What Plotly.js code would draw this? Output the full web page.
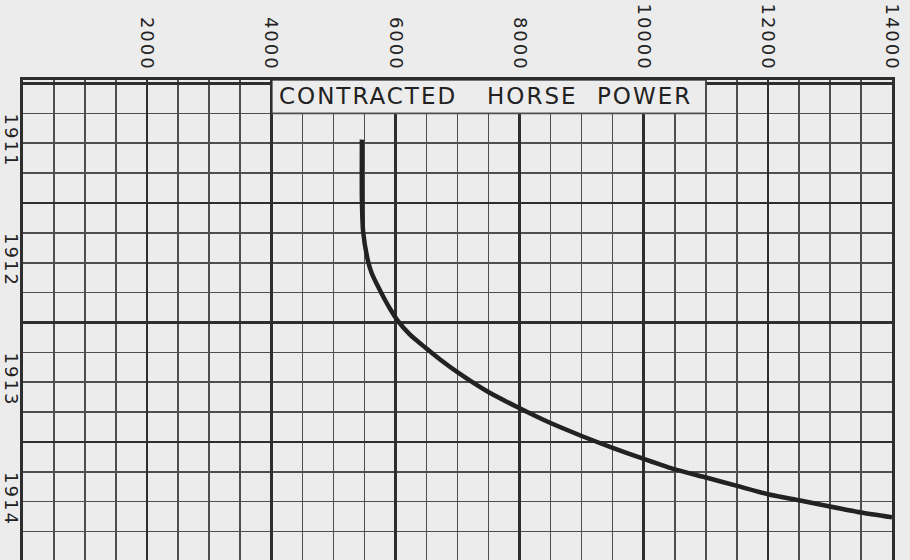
<!DOCTYPE html>
<html>
<head>
<meta charset="utf-8">
<script src="https://cdn.plot.ly/plotly-3.0.1.min.js"></script>
<style>
  html, body { margin: 0; padding: 0; background: #ececec; }
  #chart { width: 910px; height: 560px; }
  .xtick text, .y2tick text, .annotation-text { letter-spacing: 2px; }
</style>
</head>
<body>
<div id="chart"></div>
<script>
// contracted horse power by date (year position)
const horsePower = [5460, 5460, 5480, 5560, 5620, 5720, 5830, 5930, 6030, 6230, 6480, 6720, 7010, 7490, 7970, 8490, 9000, 9500, 9990, 10500, 11020, 11520, 12020, 12520, 13000, 13500, 14000]
const yearPos = [1910.97, 1911.47, 1911.74, 1911.99, 1912.09, 1912.2, 1912.31, 1912.4, 1912.48, 1912.6, 1912.71, 1912.81, 1912.92, 1913.08, 1913.21, 1913.34, 1913.45, 1913.55, 1913.64, 1913.73, 1913.8, 1913.87, 1913.94, 1913.99, 1914.04, 1914.09, 1914.13]

const hpTicks = [2000, 4000, 6000, 8000, 10000, 12000, 14000]
const years = [1911, 1912, 1913, 1914]
const titleWords = ['CONTRACTED', 'HORSE', 'POWER']
const titleWordX = [4090, 7440, 9210]

const bg = '#ececec'
const ink = '#222222'
const major = '#2e2e2e'
const minor = '#4e4e4e'
const font = 'DejaVu Sans, sans-serif'

const yRange = [1914.488, 1910.471]
const xRange = [0, 14000]

const traces = [
  {
    x: horsePower,
    y: yearPos,
    type: 'scatter',
    mode: 'lines',
    line: {color: ink, width: 4.5, shape: 'spline', smoothing: 0.6},
    hoverinfo: 'none',
    showlegend: false,
  },
  // empty trace so the label axis gets drawn
  {x: [], y: [], yaxis: 'y2', type: 'scatter', showlegend: false},
]

const shapes = [
  // title box covers the grid in the top row
  {
    type: 'rect', xref: 'x', yref: 'y', layer: 'between',
    x0: 4000, x1: 11000, y0: yRange[1], y1: 1910.75,
    fillcolor: bg, line: {color: minor, width: 1.6},
  },
  {
    type: 'line', xref: 'x', yref: 'y', layer: 'between',
    x0: 4000, x1: 4000, y0: yRange[1], y1: 1910.75,
    line: {color: major, width: 2.5},
  },
]

const annotations = titleWords.map((w, i) => ({
  text: w,
  x: titleWordX[i],
  y: 1910.605,
  xref: 'x',
  yref: 'y',
  xanchor: 'left',
  yanchor: 'middle',
  showarrow: false,
  font: {family: font, size: 23, color: ink},
}))

const layout = {
  width: 910,
  height: 560,
  autosize: false,
  paper_bgcolor: bg,
  plot_bgcolor: bg,
  margin: {l: 23, r: 18, t: 80, b: 0, pad: 0},
  showlegend: false,
  xaxis: {
    range: xRange,
    side: 'top',
    tickmode: 'array',
    tickvals: hpTicks,
    ticktext: hpTicks.map(String),
    tickangle: 90,
    ticks: '',
    tickfont: {family: font, size: 18, color: ink},
    showgrid: true,
    gridcolor: major,
    gridwidth: 2.5,
    minor: {tickmode: 'linear', tick0: 0, dtick: 500, showgrid: true, gridcolor: minor, gridwidth: 1.6},
    showline: true,
    linecolor: major,
    linewidth: 3,
    mirror: false,
    zeroline: false,
    fixedrange: true,
  },
  yaxis: {
    range: yRange,
    tickmode: 'linear',
    tick0: 1910.5,
    dtick: 1,
    showticklabels: false,
    showgrid: true,
    gridcolor: major,
    gridwidth: 2.5,
    minor: {tickmode: 'linear', tick0: 1910.5, dtick: 0.25, showgrid: true, gridcolor: minor, gridwidth: 1.6},
    showline: true,
    linecolor: major,
    linewidth: 3,
    mirror: true,
    zeroline: false,
    fixedrange: true,
  },
  yaxis2: {
    range: yRange,
    overlaying: 'y',
    side: 'left',
    anchor: 'x',
    tickmode: 'array',
    tickvals: years,
    ticktext: years.map(String),
    tickangle: 90,
    ticks: '',
    ticklabelstandoff: -1,
    tickfont: {family: font, size: 18, color: ink},
    showgrid: false,
    zeroline: false,
    showline: false,
    fixedrange: true,
  },
  shapes: shapes,
  annotations: annotations,
}

Plotly.newPlot('chart', traces, layout, {staticPlot: true, displayModeBar: false})
</script>
</body>
</html>
